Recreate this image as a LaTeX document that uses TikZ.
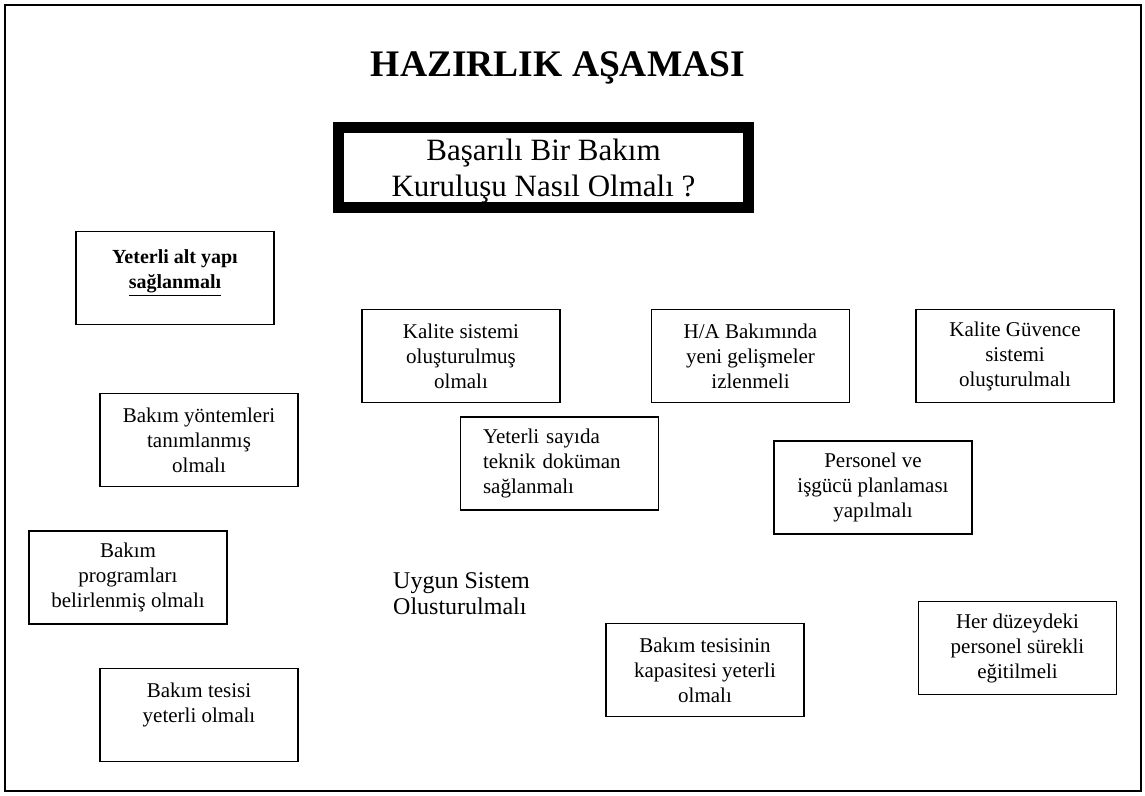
\documentclass[tikz,border=0pt]{standalone}
\usepackage{fontspec}
\setmainfont{Liberation Serif}
\begin{document}
\begin{tikzpicture}[x=1pt,y=-1pt,
  idea/.style={draw, line width=1.3pt, minimum width=198pt, minimum height=93pt,
    inner sep=0pt, align=center, font=\fontsize{21}{25}\selectfont},
  mainq/.style={draw, line width=11pt, minimum width=410pt, minimum height=80pt,
    inner sep=0pt},
  qtext/.style={align=center, inner sep=0pt, font=\fontsize{31}{36}\selectfont},
  heading/.style={font=\fontsize{37.5}{40}\selectfont\bfseries},
  freetext/.style={align=left, inner sep=0pt, font=\fontsize{24}{26}\selectfont}]
  \useasboundingbox (0,0) rectangle (1145,795);
  % outer frame
  \draw[line width=1.2pt] (5,5) rectangle (1141,791);

  % heading and central question
  \node[heading] (title) at (558,68) {HAZIRLIK AŞAMASI};
  \node[mainq] (q) at (543.5,167.5) {};
  \node[qtext] (qlabel) at (543.5,171) {Başarılı Bir Bakım\\Kuruluşu Nasıl Olmalı ?};

  % requirement boxes
  \node[idea, font=\fontsize{20}{25}\selectfont\bfseries] (altyapi) at (175,278)
    {Yeterli alt yapı\\\underline{sağlanmalı}\\[-8pt]~};
  \node[idea] (kalite) at (461,356) {Kalite sistemi\\oluşturulmuş\\olmalı};
  \node[idea] (ha) at (750.5,356) {H/A Bakımında\\yeni gelişmeler\\izlenmeli};
  \node[idea] (guvence) at (1015,356) {Kalite Güvence\\sistemi\\oluşturulmalı};
  \node[idea] (yontem) at (199,440) {Bakım yöntemleri\\tanımlanmış\\olmalı};
  \node[idea, text width=153pt, align=left] (dokuman) at (559.5,463.5)
    {Yeterli sayıda\\teknik doküman\\sağlanmalı};
  \node[idea] (personel) at (873,487.5) {Personel ve\\işgücü planlaması\\yapılmalı};
  \node[idea] (program) at (128,577.5) {Bakım\\programları\\belirlenmiş olmalı};
  \node[idea] (kapasite) at (705,670) {Bakım tesisinin\\kapasitesi yeterli\\olmalı};
  \node[idea] (egitim) at (1017.5,648) {Her düzeydeki\\personel sürekli\\eğitilmeli};
  \node[idea] (tesis) at (199,715) {Bakım tesisi\\yeterli olmalı\\~};

  % free-standing caption
  \node[freetext, anchor=west] (uygun) at (393,594) {Uygun Sistem\\Olusturulmalı};
\end{tikzpicture}
\end{document}
